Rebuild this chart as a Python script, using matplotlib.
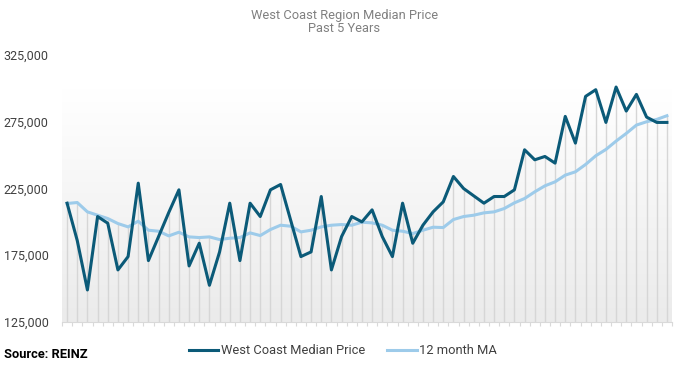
import numpy as np
import matplotlib
matplotlib.use("Agg")
import matplotlib.pyplot as plt
from matplotlib.colors import LinearSegmentedColormap

# ── DATA ───────────────────────────────────────────
months = np.arange(60)
median_price = [
    214000, 186000, 149000, 204000, 199000, 164000, 174000, 229000, 171000, 189000,
    207000, 224000, 167000, 184000, 152500, 177500, 214000, 171000, 214000, 204000,
    224000, 228000, 201000, 174000, 177500, 219000, 164000, 189000, 204000, 200000,
    209000, 189000, 174000, 214000, 184000, 197500, 207500, 215000, 234000, 225000,
    219500, 214000, 219000, 219000, 224000, 254000, 246500, 249000, 244000, 279000,
    259000, 294000, 299000, 274500, 301000, 283000, 295500, 278500, 274500, 274500,
]
moving_avg = [
    213750, 214500, 207500, 205000, 202500, 198750, 196250, 200500, 193750, 193000,
    189500, 192250, 188750, 188250, 188750, 186750, 187750, 188250, 191750, 189750,
    194250, 197500, 196750, 192500, 193750, 196250, 197500, 198000, 197500, 199750,
    199250, 197500, 193750, 193000, 191250, 193750, 196000, 195750, 201750, 204000,
    205000, 206750, 207500, 210000, 214250, 217500, 222500, 227000, 230000, 235000,
    237500, 243000, 249500, 254250, 260500, 266250, 272500, 275000, 276750, 279500,
]
y_ticks = [125000, 175000, 225000, 275000, 325000]

# ── PLOT ───────────────────────────────────────────
plt.rcParams['font.family'] = ['Roboto', 'DejaVu Sans']

fig = plt.figure(figsize=(6.85, 3.7), dpi=100)
ax = fig.add_axes([62/685, 1-322/370, 610/685, 267/370])
ax.set_xlim(-0.5, 59.5)
ax.set_ylim(125000, 325000)

# gradient panel behind the data
grad = LinearSegmentedColormap.from_list('g', ['#ebebeb', '#ffffff'])
ax.imshow(np.linspace(0, 1, 100).reshape(-1, 1), cmap=grad, aspect='auto',
          extent=[-0.5, 59.5, 125000, 300000], origin='lower', zorder=0)

top = np.maximum(median_price, moving_avg)
ax.vlines(months, 125000, top, color='#d6d6d6', linewidth=1, zorder=1)

ax.plot(months, moving_avg, color='#9dcbea', linewidth=2.2, label='12 month MA', zorder=2)
ax.plot(months, median_price, color='#0b5a78', linewidth=2.2,
        label='West Coast Median Price', zorder=3)

for s in ['top', 'right', 'left']:
    ax.spines[s].set_visible(False)
ax.spines['bottom'].set_color('#d9d9d9')

ax.set_xticks(np.arange(-0.5, 60, 1))
ax.set_xticklabels([])
ax.tick_params(axis='x', length=3, color='#d9d9d9')

ax.set_yticks(y_ticks)
ax.set_yticklabels([f'{v:,}' for v in y_ticks])
ax.tick_params(axis='y', length=0, pad=42, labelsize=9, labelcolor='#404040')
for lab in ax.get_yticklabels():
    lab.set_horizontalalignment('left')

fig.text(0.503, 1-15/370, 'West Coast Region Median Price', ha='center', va='center',
         fontsize=9.3, color='#808080')
fig.text(0.503, 1-29/370, 'Past 5 Years', ha='center', va='center',
         fontsize=9.3, color='#808080')

h, l = ax.get_legend_handles_labels()
fig.legend(h[::-1], l[::-1], loc='center', bbox_to_anchor=(343/685, 1-351/370), ncol=2,
           frameon=False, fontsize=9.3, handlelength=2.3, handletextpad=0.2,
           columnspacing=1.7, labelcolor='#404040')

fig.text(4/685, 1-354/370, 'Source: REINZ', ha='left', va='center',
         fontsize=9.3, fontweight='bold', color='black')

fig.savefig('out.png', dpi=100)
